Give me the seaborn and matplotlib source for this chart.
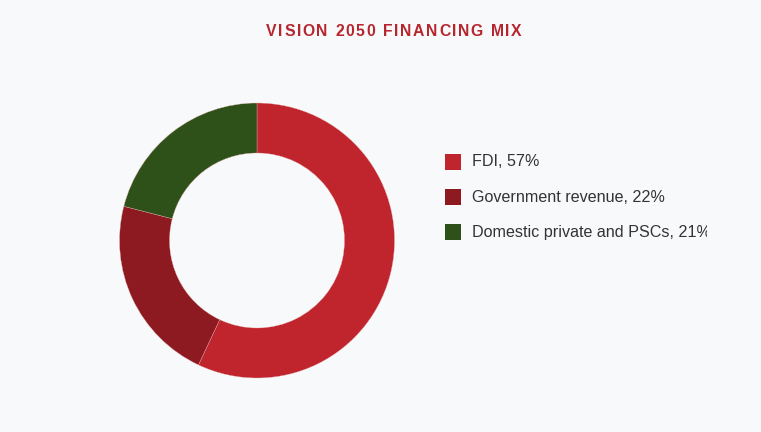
import matplotlib
matplotlib.use("Agg")
import matplotlib.pyplot as plt
import seaborn as sns
from matplotlib.patches import Rectangle
from matplotlib.transforms import Bbox

categories = ["FDI", "Government revenue", "Domestic private and PSCs"]
shares = [57, 22, 21]
colors = ["#C0242D", "#8C1A20", "#2D5118"]
title = "VISION 2050 FINANCING MIX"

BG = "#F8F9FA"
sns.set_theme(style="white")
plt.rcParams['font.family'] = ['Liberation Sans', 'DejaVu Sans']

W, H = 761, 432
fig = plt.figure(figsize=(W / 100, H / 100), dpi=100, facecolor=BG)

# donut axes
cx, cy, R = 257, 240.5, 137.5
half = 150
ax = fig.add_axes([(cx - half) / W, (H - cy - half) / H, 2 * half / W, 2 * half / H])
ax.set_facecolor(BG)
lim = half / R
ax.pie(shares, colors=colors, startangle=90, counterclock=False, radius=1,
       wedgeprops=dict(width=50 / R, edgecolor="#E8B0B0", linewidth=0.25))
ax.set_xlim(-lim, lim)
ax.set_ylim(-lim, lim)
ax.set_aspect("equal")
ax.axis("off")

# title with letter spacing
title_y = H - 32
fig.canvas.draw()
renderer = fig.canvas.get_renderer()
spacing = 1.6
chars = []
widths = []
for ch in title:
    t = fig.text(0, 0, ch, fontsize=11.3, fontweight="bold", color="#B5262E")
    bb = t.get_window_extent(renderer=renderer)
    chars.append(t)
    widths.append(bb.width)
total = sum(widths) + spacing * (len(title) - 1)
x = 394 - total / 2
for t, w in zip(chars, widths):
    t.set_position((x / W, title_y / H))
    t.set_va("center")
    x += w + spacing

# legend
clip = Bbox.from_extents(0, 0, 707, H)
ys = [162, 197, 232]
for cat, val, col, y in zip(categories, shares, colors, ys):
    fig.patches.append(Rectangle((445 / W, (H - y - 8) / H), 16 / W, 16 / H,
                                 transform=fig.transFigure, facecolor=col, edgecolor="none"))
    t = fig.text(472 / W, (H - y) / H, f"{cat}, {val}%", fontsize=11.6, color="#333333",
                 va="center", ha="left")
    t.set_clip_box(clip)
    t.set_clip_on(True)

fig.savefig("out.png", dpi=100, facecolor=BG)
